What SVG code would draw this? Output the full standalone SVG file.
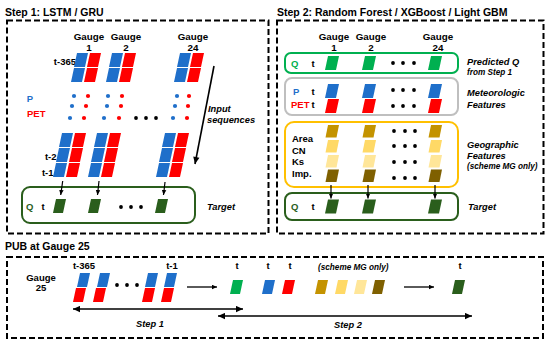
<svg xmlns="http://www.w3.org/2000/svg" width="550" height="349" viewBox="0 0 550 349">
<style>
text{font-family:"Liberation Sans",Arial,sans-serif;font-weight:bold;fill:#000}
.ttl{font-size:10.5px}
.lb{font-size:9.5px}
.g{font-size:9.8px;text-anchor:middle}
.it{font-style:italic;font-size:9.3px}
.sm{font-style:italic;font-size:8.2px}
.dash{fill:none;stroke:#000;stroke-width:2;stroke-dasharray:6 3}
.bx{fill:none;stroke-width:2}
.B{fill:#1f6fca}.R{fill:#ff0000}.G{fill:#00b050}.D{fill:#2a5e1c}
.Y1{fill:#c49300}.Y2{fill:#ffd966}.Y3{fill:#ffe699}.Y4{fill:#7f6000}
.ar{stroke:#000;fill:none}
</style>
<defs>
<path id="pa" d="M3,0 h11 l-3,14 h-11 z"/>
<path id="pb" d="M3,0 h10 l-3,14 h-10 z"/>
<path id="pc" d="M2.5,0 h11 l-2.5,12.5 h-11 z"/>
<marker id="ah" viewBox="0 0 10 10" refX="10" refY="5" markerWidth="8" markerHeight="7" markerUnits="userSpaceOnUse" orient="auto-start-reverse"><path d="M0,0.5 L10,5 L0,9.5 z" fill="#000"/></marker>
<marker id="as" viewBox="0 0 10 10" refX="10" refY="5" markerWidth="5" markerHeight="5" markerUnits="userSpaceOnUse" orient="auto"><path d="M0,0.5 L10,5 L0,9.5 z" fill="#000"/></marker>
</defs>

<g id="titles">
<text class="ttl" x="5" y="16">Step 1: LSTM / GRU</text>
<text class="ttl" x="277" y="16">Step 2: Random Forest / XGBoost / Light GBM</text>
<text class="ttl" x="5" y="250">PUB at Gauge 25</text>
</g>

<g id="frames">
<rect class="dash" x="7" y="20.5" width="261.5" height="213"/>
<rect class="dash" x="277" y="20.5" width="266.5" height="213"/>
<rect class="dash" x="7" y="257" width="536" height="81"/>
</g>

<g id="step1">
<g id="s1-gauges">
<text class="g" x="89" y="40">Gauge</text><text class="g" x="89" y="51">1</text>
<text class="g" x="126" y="40">Gauge</text><text class="g" x="126" y="51">2</text>
<text class="g" x="193" y="40">Gauge</text><text class="g" x="193" y="51">24</text>
</g>
<g id="s1-labels">
<text class="lb" x="76" y="64.5" text-anchor="end">t-365</text>
<text class="lb" x="30" y="101.5" text-anchor="middle" style="fill:#1f6fca">P</text>
<text class="lb" x="27" y="116.5" style="fill:#ff0000">PET</text>
<text class="lb" x="56.5" y="159.5" text-anchor="end">t-2</text>
<text class="lb" x="53.5" y="175.5" text-anchor="end">t-1</text>
</g>
<g id="s1-top-stacks">
<use href="#pa" class="B" x="74" y="53"/><use href="#pa" class="B" x="71" y="68"/>
<use href="#pa" class="R" x="87" y="53"/><use href="#pa" class="R" x="84" y="68"/>
<use href="#pa" class="B" x="109" y="53"/><use href="#pa" class="B" x="106" y="68"/>
<use href="#pa" class="R" x="122" y="53"/><use href="#pa" class="R" x="119" y="68"/>
<use href="#pa" class="B" x="177" y="53"/><use href="#pa" class="B" x="174" y="68"/>
<use href="#pa" class="R" x="190" y="53"/><use href="#pa" class="R" x="187" y="68"/>
</g>
<g id="s1-dots">
<circle class="B" cx="74" cy="96" r="2.1"/><circle class="B" cx="72" cy="106" r="2.1"/><circle class="B" cx="70" cy="118" r="2.1"/>
<circle class="R" cx="88" cy="96" r="2.1"/><circle class="R" cx="86" cy="106" r="2.1"/><circle class="R" cx="84" cy="118" r="2.1"/>
<circle class="B" cx="108" cy="96" r="2.1"/><circle class="B" cx="107" cy="106" r="2.1"/><circle class="B" cx="104" cy="118" r="2.1"/>
<circle class="R" cx="122" cy="96" r="2.1"/><circle class="R" cx="121" cy="106" r="2.1"/><circle class="R" cx="119" cy="118" r="2.1"/>
<circle class="B" cx="177" cy="96" r="2.1"/><circle class="B" cx="175" cy="106" r="2.1"/><circle class="B" cx="173" cy="118" r="2.1"/>
<circle class="R" cx="189" cy="96" r="2.1"/><circle class="R" cx="188" cy="106" r="2.1"/><circle class="R" cx="187" cy="118" r="2.1"/>
<circle cx="136" cy="118" r="1.9"/><circle cx="146" cy="118" r="1.9"/><circle cx="156" cy="118" r="1.9"/>
</g>
<g id="s1-bottom-stacks">
<use href="#pa" class="B" x="59" y="133"/><use href="#pa" class="B" x="56" y="148"/><use href="#pa" class="B" x="53" y="163"/>
<use href="#pa" class="R" x="72" y="133"/><use href="#pa" class="R" x="69" y="148"/><use href="#pa" class="R" x="66" y="163"/>
<use href="#pa" class="B" x="94" y="133"/><use href="#pa" class="B" x="91" y="148"/><use href="#pa" class="B" x="88" y="163"/>
<use href="#pa" class="R" x="107" y="133"/><use href="#pa" class="R" x="104" y="148"/><use href="#pa" class="R" x="101" y="163"/>
<use href="#pa" class="B" x="162" y="133"/><use href="#pa" class="B" x="159" y="148"/><use href="#pa" class="B" x="156" y="163"/>
<use href="#pa" class="R" x="175" y="133"/><use href="#pa" class="R" x="172" y="148"/><use href="#pa" class="R" x="169" y="163"/>
</g>
<g id="s1-target">
<rect class="bx" x="22" y="187" width="173" height="36" rx="8" stroke="#2a5e1c"/>
<text class="lb" x="26" y="209.5" style="fill:#2a5e1c">Q</text>
<text class="lb" x="41.5" y="209.5">t</text>
<use href="#pb" class="D" x="53" y="199"/>
<use href="#pb" class="D" x="88" y="199"/>
<use href="#pb" class="D" x="155" y="199"/>
<circle cx="121" cy="207" r="1.9"/><circle cx="131" cy="207" r="1.9"/><circle cx="141" cy="207" r="1.9"/>
<text class="it" x="207" y="209.5">Target</text>
</g>
<g id="s1-input-label">
<text class="it" x="208" y="111.5">Input</text>
<text class="it" x="207" y="122.8">sequences</text>
</g>
</g>

<g id="step2">
<g id="s2-gauges">
<text class="g" x="334" y="40">Gauge</text><text class="g" x="334" y="51">1</text>
<text class="g" x="371" y="40">Gauge</text><text class="g" x="371" y="51">2</text>
<text class="g" x="438" y="40">Gauge</text><text class="g" x="438" y="51">24</text>
</g>
<g id="s2-predq">
<rect class="bx" x="285" y="53" width="173" height="20" rx="6" stroke="#00b050"/>
<text class="lb" x="291" y="66.5" style="fill:#00b050">Q</text>
<text class="lb" x="311.5" y="66.5">t</text>
<use href="#pa" class="G" x="325" y="56"/><use href="#pa" class="G" x="362" y="56"/><use href="#pa" class="G" x="428" y="56"/>
<circle cx="393" cy="63" r="1.9"/><circle cx="403" cy="63" r="1.9"/><circle cx="414" cy="63" r="1.9"/>
<text class="it" x="467" y="65">Predicted Q</text>
<text class="sm" x="467" y="74.5">from Step 1</text>
</g>
<g id="s2-meteo">
<rect class="bx" x="285" y="78" width="173" height="37" rx="7" stroke="#bfbfbf"/>
<text class="lb" x="293" y="94.5" style="fill:#1f6fca">P</text>
<text class="lb" x="291" y="108" style="fill:#ff0000">PET</text>
<text class="lb" x="311.5" y="94.5">t</text>
<text class="lb" x="311.5" y="108">t</text>
<use href="#pa" class="B" x="325" y="84"/><use href="#pa" class="B" x="362" y="84"/><use href="#pa" class="B" x="428" y="84"/>
<use href="#pa" class="R" x="325" y="99"/><use href="#pa" class="R" x="362" y="99"/><use href="#pa" class="R" x="428" y="99"/>
<circle cx="393" cy="90" r="1.9"/><circle cx="403" cy="90" r="1.9"/><circle cx="414" cy="90" r="1.9"/>
<circle cx="393" cy="106" r="1.9"/><circle cx="403" cy="106" r="1.9"/><circle cx="414" cy="106" r="1.9"/>
<text class="it" x="467" y="95.5">Meteorologic</text>
<text class="it" x="467" y="107.5">Features</text>
</g>
<g id="s2-geo">
<rect class="bx" x="285" y="122" width="173" height="65" rx="9" stroke="#ffc000"/>
<text class="lb" x="292" y="142">Area</text>
<text class="lb" x="292" y="153.5">CN</text>
<text class="lb" x="292" y="165">Ks</text>
<text class="lb" x="292" y="176.5">Imp.</text>
<use href="#pc" class="Y1" x="325.5" y="125"/><use href="#pc" class="Y2" x="325.5" y="140"/><use href="#pc" class="Y3" x="325.5" y="155"/><use href="#pc" class="Y4" x="325.5" y="169.5"/>
<use href="#pc" class="Y1" x="362.5" y="125"/><use href="#pc" class="Y2" x="362.5" y="140"/><use href="#pc" class="Y3" x="362.5" y="155"/><use href="#pc" class="Y4" x="362.5" y="169.5"/>
<use href="#pc" class="Y1" x="428.5" y="125"/><use href="#pc" class="Y2" x="428.5" y="140"/><use href="#pc" class="Y3" x="428.5" y="155"/><use href="#pc" class="Y4" x="428.5" y="169.5"/>
<g>
<circle cx="394" cy="131" r="1.9"/><circle cx="405" cy="131" r="1.9"/><circle cx="415" cy="131" r="1.9"/>
<circle cx="394" cy="146" r="1.9"/><circle cx="405" cy="146" r="1.9"/><circle cx="415" cy="146" r="1.9"/>
<circle cx="394" cy="162" r="1.9"/><circle cx="405" cy="162" r="1.9"/><circle cx="415" cy="162" r="1.9"/>
<circle cx="394" cy="178" r="1.9"/><circle cx="405" cy="178" r="1.9"/><circle cx="415" cy="178" r="1.9"/>
</g>
<text class="it" x="467" y="148">Geographic</text>
<text class="it" x="467" y="159">Features</text>
<text class="sm" x="467" y="168.5">(scheme MG only)</text>
</g>
<g id="s2-target">
<rect class="bx" x="285" y="193" width="173" height="27" rx="7" stroke="#2a5e1c"/>
<text class="lb" x="291" y="210" style="fill:#2a5e1c">Q</text>
<text class="lb" x="311.5" y="210">t</text>
<use href="#pa" class="D" x="325" y="199.5"/><use href="#pa" class="D" x="362" y="199.5"/><use href="#pa" class="D" x="428" y="199.5"/>
<text class="it" x="468" y="210">Target</text>
</g>
</g>

<g id="pub">
<text class="lb" x="41" y="280.5" text-anchor="middle">Gauge</text>
<text class="lb" x="41" y="291" text-anchor="middle">25</text>
<text class="lb" x="84" y="268.5" text-anchor="middle">t-365</text>
<text class="lb" x="172" y="268.5" text-anchor="middle">t-1</text>
<text class="lb" x="237" y="268.5" text-anchor="middle">t</text>
<text class="lb" x="268" y="268.5" text-anchor="middle">t</text>
<text class="lb" x="290" y="268.5" text-anchor="middle">t</text>
<text class="lb" x="460" y="268.5" text-anchor="middle">t</text>
<text class="sm" x="318" y="269.5">(scheme MG only)</text>
<use href="#pb" class="B" x="77" y="273"/><use href="#pb" class="B" x="97" y="273"/><use href="#pb" class="B" x="145" y="273"/><use href="#pb" class="B" x="164" y="273"/>
<use href="#pb" class="R" x="73" y="288"/><use href="#pb" class="R" x="93" y="288"/><use href="#pb" class="R" x="142" y="288"/><use href="#pb" class="R" x="161" y="288"/>
<circle cx="117" cy="285" r="1.9"/><circle cx="127" cy="285" r="1.9"/><circle cx="137" cy="285" r="1.9"/>
<use href="#pb" class="G" x="230" y="280"/>
<use href="#pb" class="B" x="262" y="280"/>
<use href="#pb" class="R" x="282" y="280"/>
<use href="#pb" class="Y1" x="315" y="280"/>
<use href="#pb" class="Y2" x="335" y="280"/>
<use href="#pb" class="Y3" x="354" y="280"/>
<use href="#pb" class="Y4" x="372" y="280"/>
<use href="#pb" class="D" x="452" y="280"/>
<text class="it" x="150" y="326.5" text-anchor="middle">Step 1</text>
<text class="it" x="348" y="328" text-anchor="middle">Step 2</text>
</g>

<g id="connectors">
<line class="ar" x1="214" y1="66" x2="195" y2="164" stroke-width="1.6" marker-end="url(#ah)"/>
<line class="ar" x1="62.7" y1="181" x2="60.7" y2="195" stroke-width="1.2" marker-end="url(#as)"/>
<line class="ar" x1="99" y1="181" x2="97.5" y2="195" stroke-width="1.2" marker-end="url(#as)"/>
<line class="ar" x1="165" y1="182" x2="163.5" y2="195" stroke-width="1.2" marker-end="url(#as)"/>
<line class="ar" x1="331" y1="185" x2="331" y2="198.5" stroke-width="1.2" marker-end="url(#as)"/>
<line class="ar" x1="368" y1="185" x2="368" y2="198.5" stroke-width="1.2" marker-end="url(#as)"/>
<line class="ar" x1="435" y1="185" x2="435" y2="198.5" stroke-width="1.2" marker-end="url(#as)"/>
<line class="ar" x1="187" y1="287" x2="217" y2="287" stroke-width="1.3" marker-end="url(#as)"/>
<line class="ar" x1="404" y1="287" x2="434" y2="287" stroke-width="1.3" marker-end="url(#as)"/>
<line class="ar" x1="73" y1="309" x2="243" y2="309" stroke-width="1.6" marker-start="url(#ah)" marker-end="url(#ah)"/>
<line class="ar" x1="218" y1="316" x2="472" y2="316" stroke-width="1.6" marker-start="url(#ah)" marker-end="url(#ah)"/>
</g>
</svg>
